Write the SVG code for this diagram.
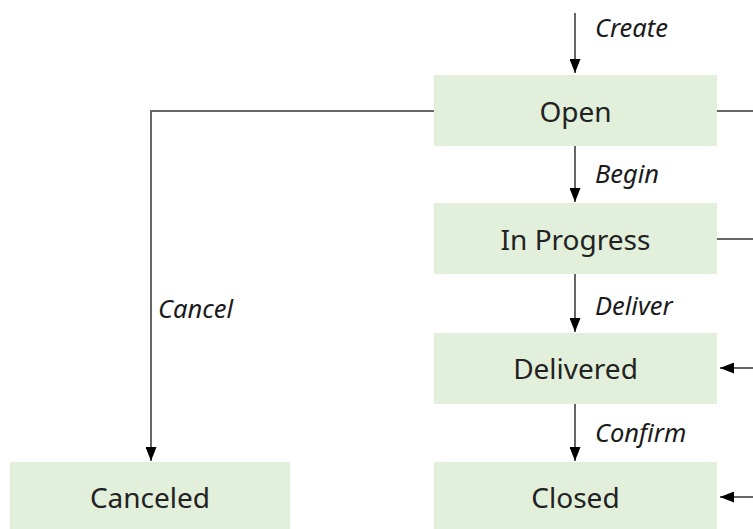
<svg xmlns="http://www.w3.org/2000/svg" width="753" height="529" viewBox="0 0 753 529">
<defs>
<style>
.box{fill:#e2efda;}
.nt{font-family:"Noto Sans","Open Sans",sans-serif;font-size:28px;fill:#222;text-anchor:middle;}
.lb{font-family:"Noto Sans","Open Sans",sans-serif;font-size:25.5px;font-style:italic;fill:#1a1a1a;}
.ln{stroke:#666;stroke-width:2;fill:none;}
</style>
<marker id="ah" markerWidth="14" markerHeight="11" refX="14" refY="5.5" orient="auto" markerUnits="userSpaceOnUse">
<path d="M0,0 L14,5.5 L0,11 Z" fill="#000"/>
</marker>
</defs>
<rect width="753" height="529" fill="#fff"/>
<g id="open"><rect class="box" x="434" y="75" width="283" height="71"/><text class="nt" x="575.5" y="121.5">Open</text></g>
<g id="inprogress"><rect class="box" x="434" y="203" width="283" height="71"/><text class="nt" x="575.5" y="250">In Progress</text></g>
<g id="delivered"><rect class="box" x="434" y="333" width="283" height="71"/><text class="nt" x="575.5" y="379">Delivered</text></g>
<g id="closed"><rect class="box" x="434" y="462" width="283" height="71"/><text class="nt" x="575.5" y="508">Closed</text></g>
<g id="canceled"><rect class="box" x="10" y="462" width="280" height="71"/><text class="nt" x="150" y="508">Canceled</text></g>
<g id="connectors">
<path class="ln" d="M575,13 V73" marker-end="url(#ah)"/>
<path class="ln" d="M575,146 V202" marker-end="url(#ah)"/>
<path class="ln" d="M575,274 V332" marker-end="url(#ah)"/>
<path class="ln" d="M575,404 V461" marker-end="url(#ah)"/>
<path class="ln" d="M434,111 H151 V461" marker-end="url(#ah)"/>
<path class="ln" d="M717,111 H753"/>
<path class="ln" d="M717,239 H753"/>
<path class="ln" d="M753,368 H720" marker-end="url(#ah)"/>
<path class="ln" d="M753,497 H720" marker-end="url(#ah)"/>
<text class="lb" x="595" y="37">Create</text>
<text class="lb" x="595" y="183">Begin</text>
<text class="lb" x="595" y="315">Deliver</text>
<text class="lb" x="595" y="442">Confirm</text>
<text class="lb" x="158" y="318">Cancel</text>
</g>
</svg>
